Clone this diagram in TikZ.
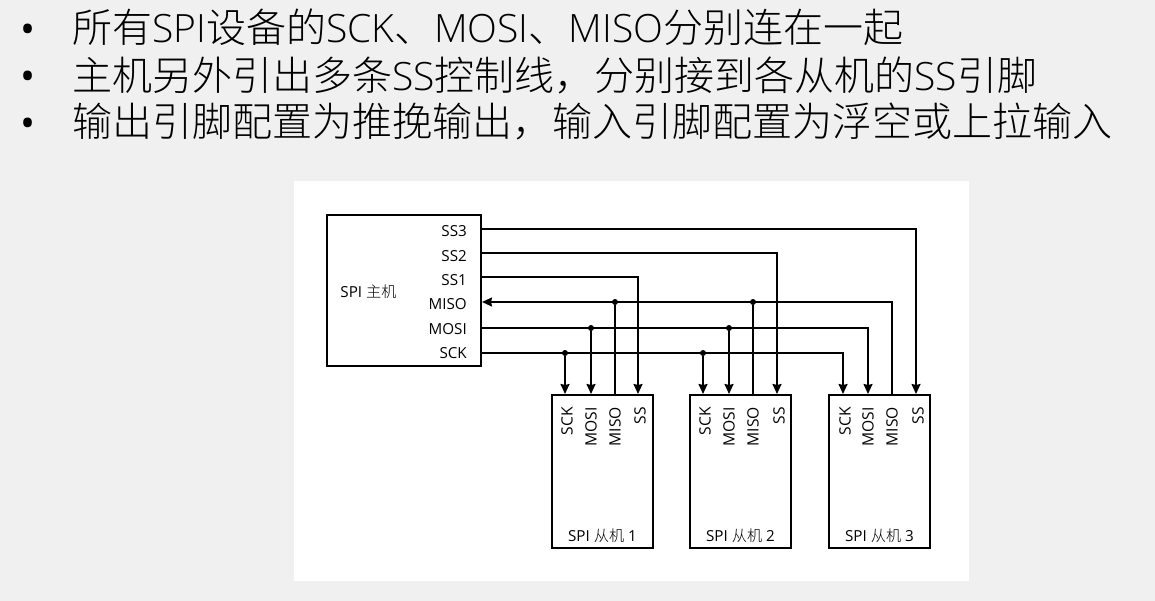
\documentclass[tikz,border=0pt]{standalone}
\usepackage{fontspec}
\setmainfont{Open Sans}
\newfontfamily\cjk{Noto Sans CJK SC}[UprightFont=* Light]
\newfontfamily\latinlight{Open Sans}[UprightFont=* Light]
\usetikzlibrary{arrows.meta, positioning}
\definecolor{pagebg}{HTML}{F0F0F0}
\newcommand{\hl}[1]{{\fontsize{39}{39}\selectfont\latinlight #1}}

\begin{document}
\begin{tikzpicture}[
    x=1pt, y=-1pt,
    mainbox/.style={rectangle, draw, line width=1.6pt, minimum width=154pt, minimum height=151pt, outer sep=0pt, inner sep=0pt},
    slavebox/.style={rectangle, draw, line width=1.6pt, minimum width=101pt, minimum height=153pt, outer sep=0pt, inner sep=0pt},
    bullet/.style={font=\fontsize{40}{40}\selectfont, inner sep=0pt},
    headline/.style={anchor=west, inner sep=0pt, font=\fontsize{40}{40}\selectfont\cjk},
    pinm/.style={anchor=east, inner sep=0pt, font=\fontsize{15.2}{15.2}\selectfont},
    pins/.style={anchor=east, rotate=90, inner sep=0pt, font=\fontsize{15.6}{15.6}\selectfont},
    boxname/.style={inner sep=0pt, font=\fontsize{15.2}{15.2}\selectfont},
    wire/.style={line width=1.6pt},
    arr/.style={wire, -{Stealth[length=10pt, width=9pt, inset=1pt]}, shorten >=1pt},
    dot/.style={circle, fill, inner sep=0pt, minimum size=6pt},
]
    \useasboundingbox (0,0) rectangle (1155,601);
    \fill[pagebg] (0,0) rectangle (1155,601);
    \fill[white] (294,181) rectangle (969,581);

    % bullet list
    \node[bullet] (b1) at (28,34) {•};
    \node[bullet] (b2) at (28,81) {•};
    \node[bullet] (b3) at (28,128) {•};
    \node[headline] (l1) at (72,27.5) {所有\hl{SPI}设备的\hl{SCK}、\hl{MOSI}、\hl{MISO}分别连在一起};
    \node[headline] (l2) at (72,75) {主机另外引出多条\hl{SS}控制线，分别接到各从机的\hl{SS}引脚};
    \node[headline] (l3) at (72,122) {输出引脚配置为推挽输出，输入引脚配置为浮空或上拉输入};

    % boxes
    \node[mainbox] (master) at (404,290.5) {};
    \node[slavebox] (s1) at (602.5,471.5) {};
    \node[slavebox, right=37pt of s1] (s2) {};
    \node[slavebox, right=38pt of s2] (s3) {};

    \node[boxname] (mname) at (368.5,292) {SPI {\cjk 主机}};
    \node[boxname, above=5pt of s1.south] (s1name) {SPI {\cjk 从机} 1};
    \node[boxname, above=5pt of s2.south] (s2name) {SPI {\cjk 从机} 2};
    \node[boxname, above=5pt of s3.south] (s3name) {SPI {\cjk 从机} 3};

    % master pins
    \coordinate (mss3)  at (481,229);
    \coordinate (mss2)  at (481,253);
    \coordinate (mss1)  at (481,277);
    \coordinate (mmiso) at (481,302);
    \coordinate (mmosi) at (481,328);
    \coordinate (msck)  at (481,353);
    \node[pinm] (tss3)  at (467,231.5) {SS3};
    \node[pinm] (tss2)  at (467,256) {SS2};
    \node[pinm] (tss1)  at (467,280) {SS1};
    \node[pinm] (tmiso) at (467,304.5) {MISO};
    \node[pinm] (tmosi) at (467,329) {MOSI};
    \node[pinm] (tsck)  at (467,353.5) {SCK};

    % slave pins
    \coordinate[right=13pt of s1.north west] (s1ck);
    \coordinate[right=39pt of s1.north west] (s1mo);
    \coordinate[right=63pt of s1.north west] (s1mi);
    \coordinate[right=86pt of s1.north west] (s1ss);
    \coordinate[right=13pt of s2.north west] (s2ck);
    \coordinate[right=39pt of s2.north west] (s2mo);
    \coordinate[right=63pt of s2.north west] (s2mi);
    \coordinate[right=87pt of s2.north west] (s2ss);
    \coordinate[right=14pt of s3.north west] (s3ck);
    \coordinate[right=39pt of s3.north west] (s3mo);
    \coordinate[right=63pt of s3.north west] (s3mi);
    \coordinate[right=87pt of s3.north west] (s3ss);

    \node[below=12pt of s1ck, xshift=2pt, pins] (s1tck) {SCK};
    \node[below=12pt of s1mo, pins] (s1tmo) {MOSI};
    \node[below=12pt of s1mi, pins] (s1tmi) {MISO};
    \node[below=12pt of s1ss, xshift=2pt, pins] (s1tss) {SS};
    \node[below=12pt of s2ck, xshift=2pt, pins] (s2tck) {SCK};
    \node[below=12pt of s2mo, pins] (s2tmo) {MOSI};
    \node[below=12pt of s2mi, pins] (s2tmi) {MISO};
    \node[below=12pt of s2ss, xshift=2pt, pins] (s2tss) {SS};
    \node[below=12pt of s3ck, xshift=2pt, pins] (s3tck) {SCK};
    \node[below=12pt of s3mo, pins] (s3tmo) {MOSI};
    \node[below=12pt of s3mi, pins] (s3tmi) {MISO};
    \node[below=12pt of s3ss, xshift=2pt, pins] (s3tss) {SS};

    % junctions
    \node[dot] (j1ck) at (s1ck |- msck) {};
    \node[dot] (j1mo) at (s1mo |- mmosi) {};
    \node[dot] (j1mi) at (s1mi |- mmiso) {};
    \node[dot] (j2ck) at (s2ck |- msck) {};
    \node[dot] (j2mo) at (s2mo |- mmosi) {};
    \node[dot] (j2mi) at (s2mi |- mmiso) {};

    % wires
    \draw[arr] (mss3) -| (s3ss);
    \draw[arr] (mss2) -| (s2ss);
    \draw[arr] (mss1) -| (s1ss);
    \draw[arr] (msck) -| (s3ck);
    \draw[arr] (mmosi) -| (s3mo);
    \draw[arr] (s3mi) |- (mmiso);
    \draw[arr] (j1ck) -- (s1ck);
    \draw[arr] (j1mo) -- (s1mo);
    \draw[wire] (s1mi) -- (j1mi);
    \draw[arr] (j2ck) -- (s2ck);
    \draw[arr] (j2mo) -- (s2mo);
    \draw[wire] (s2mi) -- (j2mi);
\end{tikzpicture}
\end{document}
